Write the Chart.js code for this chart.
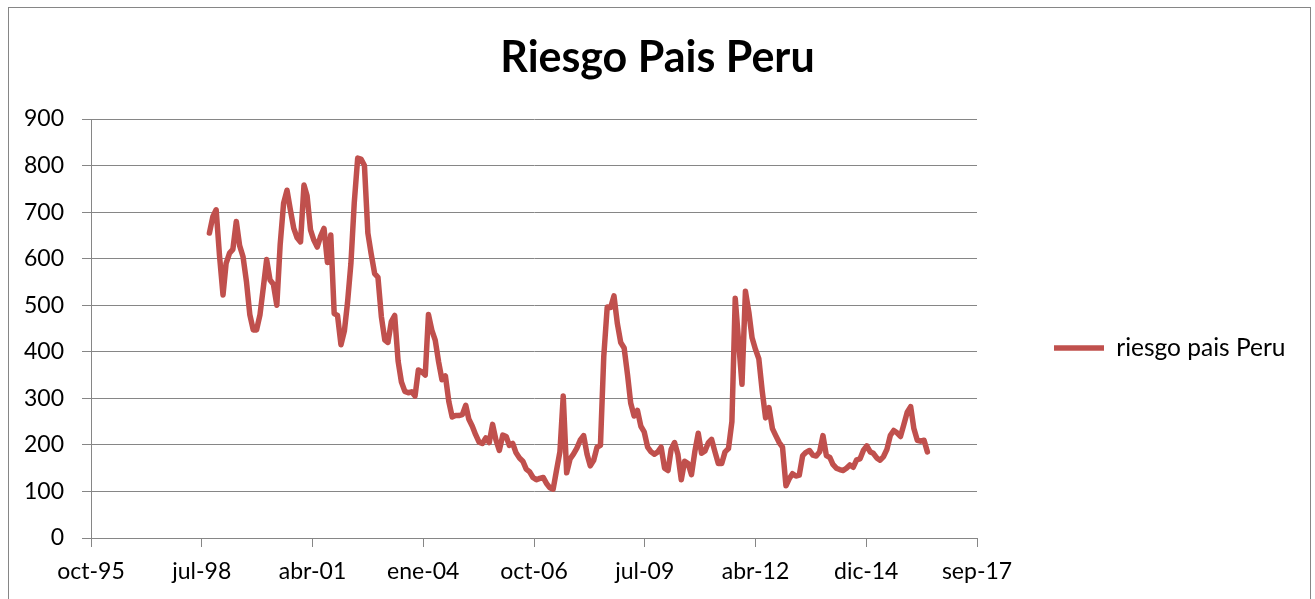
<!DOCTYPE html>
<html>
<head>
<meta charset="utf-8">
<script src="https://cdn.jsdelivr.net/npm/chart.js@4"></script>
<style>
html,body{margin:0;padding:0;background:#fff;overflow:hidden}
#wrap{position:absolute;left:0;top:0;width:1315px;height:599px}
</style>
</head>
<body>
<div id="wrap"><canvas id="c" width="1315" height="599"></canvas></div>
<script>
// ---- data ----
const chartTitle = 'Riesgo Pais Peru';
const seriesName = 'riesgo pais Peru';
// x axis: days counted from the first tick date (28 Oct 1995), ticks every 1000 days
const axisOriginDate = [1995, 9, 28];
const tickLabels = ['oct-95','jul-98','abr-01','ene-04','oct-06','jul-09','abr-12','dic-14','sep-17'];
const yTickValues = [0,100,200,300,400,500,600,700,800,900];
// monthly series, first month = Oct 1998
const firstMonth = [1998, 9];
const riesgo = [
 655,690,705,605,522,590,612,620,680,628,604,550,
 480,447,447,480,540,598,554,545,500,630,719,747,
 705,665,645,636,758,735,662,640,625,648,665,592,
 651,482,478,415,445,505,590,720,816,814,800,655,
 610,568,560,475,425,420,465,478,380,335,315,312,
 314,305,361,357,350,480,446,425,378,340,348,293,
 260,263,263,265,285,255,240,222,206,203,215,205,
 244,210,188,221,218,199,203,183,172,165,148,142,
 130,125,128,130,117,108,105,145,185,305,140,170,
 180,193,210,220,180,155,167,195,199,390,496,495,
 520,460,420,408,350,290,262,274,240,228,195,185,
 180,185,195,150,145,190,205,180,125,165,160,136,
 185,225,182,187,205,212,185,160,160,185,192,250,
 515,420,330,530,485,430,405,385,315,258,280,235,
 220,205,195,112,128,138,133,135,177,184,188,178,
 176,185,220,177,173,158,150,147,145,150,157,152,
 168,170,188,198,185,182,172,167,175,190,220,231,
 226,218,243,270,282,235,210,208,210,185
];

// ---- build points (x = days since first tick) ----
const origin = Date.UTC(axisOriginDate[0], axisOriginDate[1], axisOriginDate[2]);
const points = riesgo.map((v, i) => ({
  x: (Date.UTC(firstMonth[0], firstMonth[1] + i, 1) - origin) / 86400000,
  y: v
}));

const FONT = 'Lato, "Open Sans", sans-serif';
const GRID = '#868686';

const frame = {
  id: 'frame',
  beforeDraw(chart) {
    const ctx = chart.ctx;
    ctx.save();
    ctx.fillStyle = '#fff';
    ctx.fillRect(0, 0, chart.width, chart.height);
    ctx.strokeStyle = GRID;
    ctx.lineWidth = 1;
    ctx.strokeRect(8.5, 7.5, 1302, 700);
    ctx.restore();
  }
};

const boxPlace = {
  id: 'boxPlace',
  afterLayout(chart) {
    const L = chart.legend;
    if (L) {
      const pad = L.options.labels.padding;
      const w = L.width, h = L.height;
      L.left = 1054 - pad; L.right = L.left + w;
      L.top = 348 - h / 2; L.bottom = L.top + h;
    }
    const T = chart.titleBlock;
    if (T) {
      T.left = 0; T.right = chart.width; T.width = chart.width;
    }
  }
};

Chart.defaults.font.family = FONT;
Chart.defaults.color = '#000';

new Chart(document.getElementById('c'), {
  type: 'line',
  data: {
    datasets: [{
      label: seriesName,
      data: points,
      borderColor: '#C0504D',
      backgroundColor: '#C0504D',
      borderWidth: 5.5,
      pointRadius: 0,
      tension: 0,
      fill: false,
      borderJoinStyle: 'round',
      borderCapStyle: 'round'
    }]
  },
  options: {
    responsive: false,
    devicePixelRatio: 1,
    animation: false,
    layout: { padding: { left: 0, right: 338, top: 0, bottom: 0 } },
    plugins: {
      title: {
        display: true,
        text: chartTitle,
        color: '#000',
        font: { family: FONT, size: 43, weight: 'bold' },
        padding: { top: 32, bottom: 35.4 }
      },
      legend: {
        display: true,
        position: 'chartArea',
        labels: {
          usePointStyle: true,
          pointStyle: 'line',
          pointStyleWidth: 50,
          padding: 10,
          color: '#000',
          font: { family: FONT, size: 24.5 }
        }
      },
      tooltip: { enabled: false }
    },
    scales: {
      x: {
        type: 'linear',
        min: 0,
        max: 8000,
        afterFit(s) { s.height = 61; },
        afterBuildTicks(s) { s.ticks = tickLabels.map((_, i) => ({ value: i * 1000 })); },
        ticks: {
          autoSkip: false,
          maxRotation: 0,
          padding: 11,
          color: '#000',
          font: { family: FONT, size: 23 },
          callback: (v) => tickLabels[Math.round(v / 1000)]
        },
        grid: { drawOnChartArea: false, drawTicks: true, tickLength: 9, color: GRID, lineWidth: 1 },
        border: { display: true, color: GRID, width: 1 }
      },
      y: {
        min: 0,
        max: 900,
        afterFit(s) { s.width = 91; },
        afterBuildTicks(s) { s.ticks = yTickValues.map(v => ({ value: v })); },
        ticks: {
          padding: 18,
          color: '#000',
          font: { family: FONT, size: 23 }
        },
        grid: { color: GRID, lineWidth: 1, tickLength: 9, drawTicks: true },
        border: { display: true, color: GRID, width: 1 }
      }
    }
  },
  plugins: [frame, boxPlace]
});
</script>
</body>
</html>
